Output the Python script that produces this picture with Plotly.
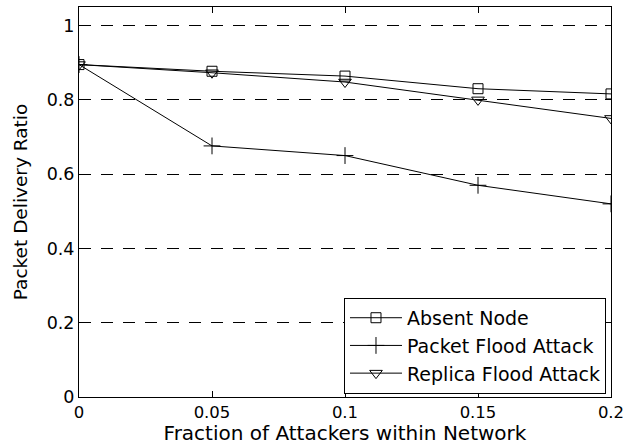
import plotly.graph_objects as go

x = [0, 0.05, 0.1, 0.15, 0.2]
absent_node = [0.895, 0.877, 0.864, 0.83, 0.816]
packet_flood = [0.895, 0.676, 0.65, 0.57, 0.52]
replica_flood = [0.895, 0.873, 0.848, 0.80, 0.75]
x_ticks = [0, 0.05, 0.1, 0.15, 0.2]
x_tick_labels = ["0", "0.05", "0.1", "0.15", "0.2"]
y_ticks = [0, 0.2, 0.4, 0.6, 0.8, 1.0]
y_tick_labels = ["0", "0.2", "0.4", "0.6", "0.8", "1"]

FONT = "DejaVu Sans, sans-serif"
fig = go.Figure()
line = dict(color="black", width=1)
fig.add_trace(go.Scatter(x=x, y=absent_node, name="Absent Node", mode="lines+markers",
                         line=line, marker=dict(symbol="square-open", size=10, color="black", line=dict(width=1))))
fig.add_trace(go.Scatter(x=x, y=packet_flood, name="Packet Flood Attack", mode="lines+markers",
                         line=line, marker=dict(symbol="cross-thin-open", size=12, color="black", line=dict(width=1, color="black"))))
fig.add_trace(go.Scatter(x=x, y=replica_flood, name="Replica Flood Attack", mode="lines+markers",
                         line=line, marker=dict(symbol="triangle-down-open", size=11, color="black", line=dict(width=1))))

fig.update_layout(
    width=625, height=445,
    margin=dict(l=79, r=14, t=7, b=48),
    paper_bgcolor="white", plot_bgcolor="white",
    font=dict(family=FONT, size=17, color="black"),
    showlegend=True,
    legend=dict(x=0.9906, y=0.008, xanchor="right", yanchor="bottom",
                bgcolor="white", bordercolor="black", borderwidth=1,
                font=dict(size=19), tracegroupgap=0, itemwidth=52),
    xaxis=dict(range=[0, 0.2], tickvals=x_ticks, ticktext=x_tick_labels,
               showgrid=False, zeroline=False, showline=True, linecolor="black", linewidth=1,
               mirror="ticks", ticks="inside", ticklen=6, tickcolor="black",
               tickfont=dict(size=16.5), automargin=False,
               title=dict(text="Fraction of Attackers within Network", font=dict(size=20), standoff=0)),
    yaxis=dict(range=[0, 1.05], tickvals=y_ticks, ticktext=y_tick_labels,
               showgrid=True, gridcolor="black", gridwidth=1, griddash="12px,10px",
               zeroline=False, showline=True, linecolor="black", linewidth=1,
               mirror="ticks", ticks="inside", ticklen=6, tickcolor="black",
               tickfont=dict(size=17.5), automargin=False,
               title=dict(text="Packet Delivery Ratio", font=dict(size=18.5), standoff=14)),
)
# remove the default page margin so the figure fills the window exactly
fig.write_html("out.html", config={"displayModeBar": False},
               post_script="document.body.style.margin='0';")
